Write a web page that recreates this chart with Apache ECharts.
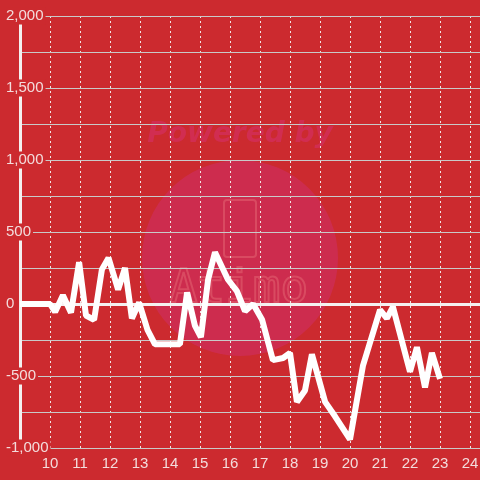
<!DOCTYPE html>
<html>
<head>
<meta charset="utf-8">
<script src="https://cdn.jsdelivr.net/npm/echarts@6/dist/echarts.min.js"></script>
<style>
  html, body { margin: 0; padding: 0; background: #cc2a2f; }
  #chart { width: 480px; height: 480px; }
</style>
</head>
<body>
<div id="chart"></div>
<script>
// hour of day
const hours = [9, 10, 10.17, 10.43, 10.7, 10.97, 11.2, 11.47, 11.73, 11.95, 12.27, 12.5, 12.73, 12.97,
  13.25, 13.5, 14.33, 14.57, 14.83, 15.03, 15.27, 15.5, 15.93, 16.23, 16.5, 16.77, 17.07, 17.43,
  17.77, 18.0, 18.23, 18.5, 18.73, 19.17, 19.5, 20.0, 20.43, 21.0, 21.23, 21.43, 22.0, 22.23,
  22.5, 22.73, 23.0]
const values = [0, 0, -55, 60, -60, 290, -80, -110, 240, 320, 100, 250, -100, 10,
  -180, -280, -280, 80, -150, -230, 170, 360, 170, 90, -50, 0, -110, -390,
  -375, -340, -680, -600, -350, -680, -780, -940, -430, -40, -100, -20, -470, -300,
  -580, -340, -520]

const bg = '#cc2a2f'
const labelColor = '#f3dcdc'

const chartDom = echarts.init(document.getElementById('chart'))
const option = {
  backgroundColor: bg,
  animation: false,
  grid: { left: 20, right: 0, top: 16, bottom: 32, outerBoundsMode: 'none', containLabel: false },
  graphic: [
    // faded watermark behind the plot
    { type: 'circle', z: -10, shape: { cx: 240, cy: 258, r: 98 }, style: { fill: 'rgba(205,45,90,0.75)' } },
    { type: 'text', z: -10, x: 240, y: 135, style: { text: 'Powered by', fill: 'rgba(210,45,85,0.9)', font: 'italic bold 28px "DejaVu Sans"', align: 'center', verticalAlign: 'middle' } },
    { type: 'rect', z: -10, shape: { x: 224, y: 200, width: 32, height: 57, r: 3 }, style: { fill: 'none', stroke: 'rgba(225,95,110,0.6)', lineWidth: 2 } },
    { type: 'text', z: -10, x: 239, y: 290, style: { text: 'Atimo', fill: 'none', stroke: 'rgba(225,95,110,0.6)', lineWidth: 2, font: '46px "DejaVu Sans Mono"', align: 'center', verticalAlign: 'middle' } }
  ],
  xAxis: {
    type: 'value',
    min: 9,
    max: 24.333,
    interval: 1,
    axisLine: { show: false, onZero: false },
    axisTick: { show: false },
    axisLabel: {
      color: labelColor, fontSize: 15, margin: 8,
      showMinLabel: false, showMaxLabel: false,
      formatter: v => (v >= 10 && v <= 24) ? String(v) : ''
    },
    splitLine: { show: true, lineStyle: { color: '#f0e6e6', type: [2, 3], width: 1 } }
  },
  yAxis: {
    type: 'value',
    min: -1000,
    max: 2000,
    interval: 500,
    z: 4,
    axisLine: { show: true, lineStyle: { color: '#f4f0f0', width: 3 } },
    axisTick: { show: false },
    axisLabel: {
      color: labelColor, fontSize: 15, margin: 14, align: 'left',
      backgroundColor: bg, padding: [1, 2, 1, 0],
      formatter: v => v.toLocaleString('en-US')
    },
    splitLine: { show: true, lineStyle: { color: '#c9c9c9', width: 1 } },
    minorTick: { show: false, splitNumber: 2 },
    minorSplitLine: { show: true, lineStyle: { color: '#c9c9c9', width: 1 } }
  },
  series: [{
    type: 'line',
    data: hours.map((h, i) => [h, values[i]]),
    showSymbol: false,
    lineStyle: { color: '#ffffff', width: 6 },
    z: 5,
    markLine: {
      silent: true,
      symbol: 'none',
      label: { show: false },
      lineStyle: { color: '#f4f0f0', width: 3, type: 'solid' },
      data: [{ yAxis: 0 }]
    }
  }]
}
chartDom.setOption(option, true)
</script>
</body>
</html>
